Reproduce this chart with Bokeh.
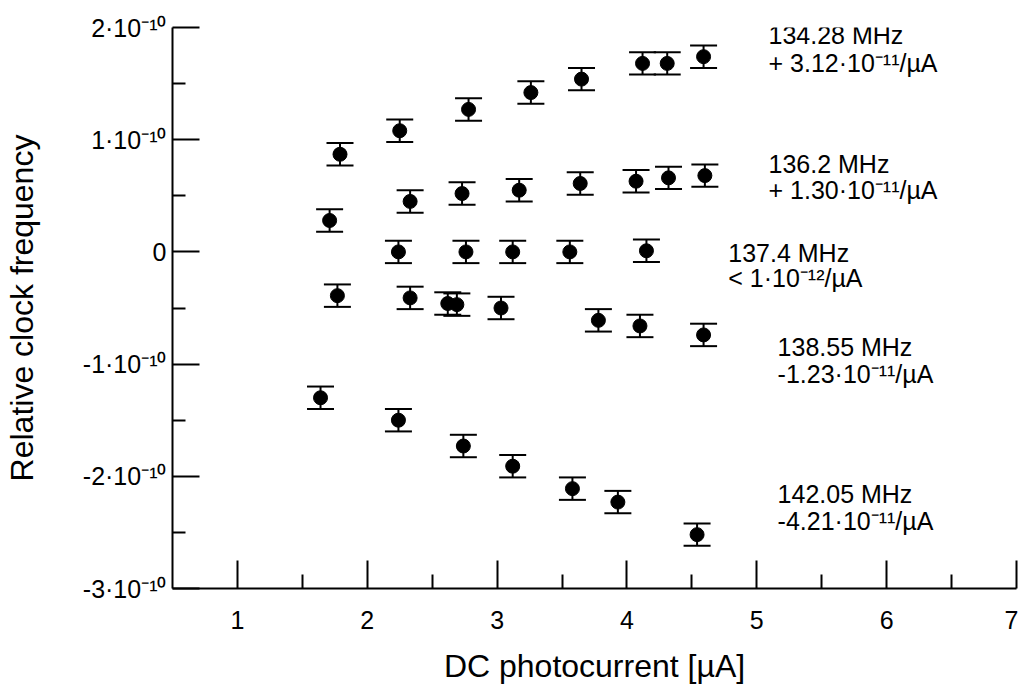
from bokeh.plotting import figure
from bokeh.models import FixedTicker, Range1d, Label, ColumnDataSource
from bokeh.embed import file_html
from bokeh.resources import INLINE

# ---- data (y values in units of 1e-10) ----
x_13428 = [1.79, 2.25, 2.78, 3.26, 3.65, 4.12, 4.31, 4.59]
y_13428 = [0.87, 1.08, 1.27, 1.42, 1.54, 1.68, 1.68, 1.74]
e_13428 = [0.10, 0.10, 0.10, 0.10, 0.10, 0.10, 0.10, 0.10]

x_1362 = [1.71, 2.33, 2.73, 3.17, 3.64, 4.07, 4.32, 4.60]
y_1362 = [0.28, 0.45, 0.52, 0.55, 0.61, 0.63, 0.66, 0.68]
e_1362 = [0.10, 0.10, 0.10, 0.10, 0.10, 0.10, 0.10, 0.10]

x_1374 = [2.24, 2.76, 3.12, 3.56, 4.15]
y_1374 = [0.00, 0.00, 0.00, 0.00, 0.01]
e_1374 = [0.10, 0.10, 0.10, 0.10, 0.10]

x_13855 = [1.77, 2.33, 2.62, 2.69, 3.03, 3.78, 4.10, 4.59]
y_13855 = [-0.39, -0.41, -0.46, -0.47, -0.50, -0.61, -0.66, -0.74]
e_13855 = [0.10, 0.10, 0.10, 0.10, 0.10, 0.10, 0.10, 0.10]

x_14205 = [1.64, 2.24, 2.74, 3.12, 3.58, 3.93, 4.54]
y_14205 = [-1.30, -1.50, -1.73, -1.91, -2.11, -2.23, -2.52]
e_14205 = [0.10, 0.10, 0.10, 0.10, 0.10, 0.10, 0.10]

series = [
    (x_13428, y_13428, e_13428),
    (x_1362, y_1362, e_1362),
    (x_1374, y_1374, e_1374),
    (x_13855, y_13855, e_13855),
    (x_14205, y_14205, e_14205),
]

y_ticks = [-3, -2, -1, 0, 1, 2]
y_tick_labels = ["-3·10⁻¹⁰", "-2·10⁻¹⁰", "-1·10⁻¹⁰", "0", "1·10⁻¹⁰", "2·10⁻¹⁰"]
y_minor = [-2.5, -1.5, -0.5, 0.5, 1.5]
x_ticks = [1, 2, 3, 4, 5, 6, 7]
x_minor = [1.5, 2.5, 3.5, 4.5, 5.5, 6.5]

annotations = [
    ("134.28 MHz", "+ 3.12·10⁻¹¹/µA"),
    ("136.2 MHz", "+ 1.30·10⁻¹¹/µA"),
    ("137.4 MHz", "< 1·10⁻¹²/µA"),
    ("138.55 MHz", " -1.23·10⁻¹¹/µA"),
    ("142.05 MHz", "-4.21·10⁻¹¹/µA"),
]

FONT = "Liberation Sans"

p = figure(width=1018, height=686, output_backend="svg", toolbar_location=None,
           x_range=Range1d(0.5, 7.0), y_range=Range1d(-3.0, 2.0),
           min_border_left=172, min_border_right=2, min_border_top=27, min_border_bottom=97)
p.outline_line_color = None
p.xgrid.visible = False
p.ygrid.visible = False
p.background_fill_color = "white"
p.border_fill_color = "white"

for ax in (p.xaxis[0], p.yaxis[0]):
    ax.axis_line_width = 2
    ax.axis_line_color = "black"
    ax.major_tick_line_width = 2
    ax.minor_tick_line_width = 2
    ax.major_tick_line_color = "black"
    ax.minor_tick_line_color = "black"
    ax.major_tick_out = 0
    ax.minor_tick_out = 0
    ax.major_label_text_font = FONT
    ax.major_label_text_font_size = "25px"
    ax.major_label_text_color = "black"
    ax.axis_label_text_font = FONT
    ax.axis_label_text_font_size = "32px"
    ax.axis_label_text_font_style = "normal"
    ax.axis_label_text_color = "black"

p.xaxis.ticker = FixedTicker(ticks=x_ticks, minor_ticks=x_minor)
p.xaxis.major_tick_in = 28
p.xaxis.minor_tick_in = 14
p.xaxis.major_label_standoff = 22
p.xaxis.axis_label = "DC photocurrent [µA]"
p.xaxis.axis_label_standoff = 16

p.yaxis.ticker = FixedTicker(ticks=y_ticks, minor_ticks=y_minor)
p.yaxis.major_tick_in = 27
p.yaxis.minor_tick_in = 13
p.yaxis.major_label_standoff = 6
p.yaxis.major_label_overrides = {t: s for t, s in zip(y_ticks, y_tick_labels)}
p.yaxis.axis_label = "Relative clock frequency"
p.yaxis.axis_label_standoff = 40

for xs, ys, es in series:
    lo = [y - e for y, e in zip(ys, es)]
    hi = [y + e for y, e in zip(ys, es)]
    src = ColumnDataSource(dict(x=xs, y=ys, lo=lo, hi=hi))
    p.segment(x0="x", y0="lo", x1="x", y1="hi", source=src, line_color="black", line_width=2)
    p.scatter(x="x", y="lo", source=src, marker="dash", size=27, line_color="black", line_width=2)
    p.scatter(x="x", y="hi", source=src, marker="dash", size=27, line_color="black", line_width=2)
    p.scatter(x="x", y="y", source=src, marker="circle", size=14, fill_color="black", line_color="black")

# annotation positions (data units)
ann_pos = [(5.09, 1.93, 1.68), (5.09, 0.78, 0.55), (4.78, -0.01, -0.23),
           (5.16, -0.85, -1.09), (5.16, -2.16, -2.40)]
for (l1, l2), (ax_, y1, y2) in zip(annotations, ann_pos):
    for txt, yy in ((l1, y1), (l2, y2)):
        p.add_layout(Label(x=ax_, y=yy, text=txt, text_font=FONT, text_font_size="25px",
                           text_color="black", text_baseline="alphabetic", text_align="left"))

open("out.html", "w").write(file_html(p, INLINE))
